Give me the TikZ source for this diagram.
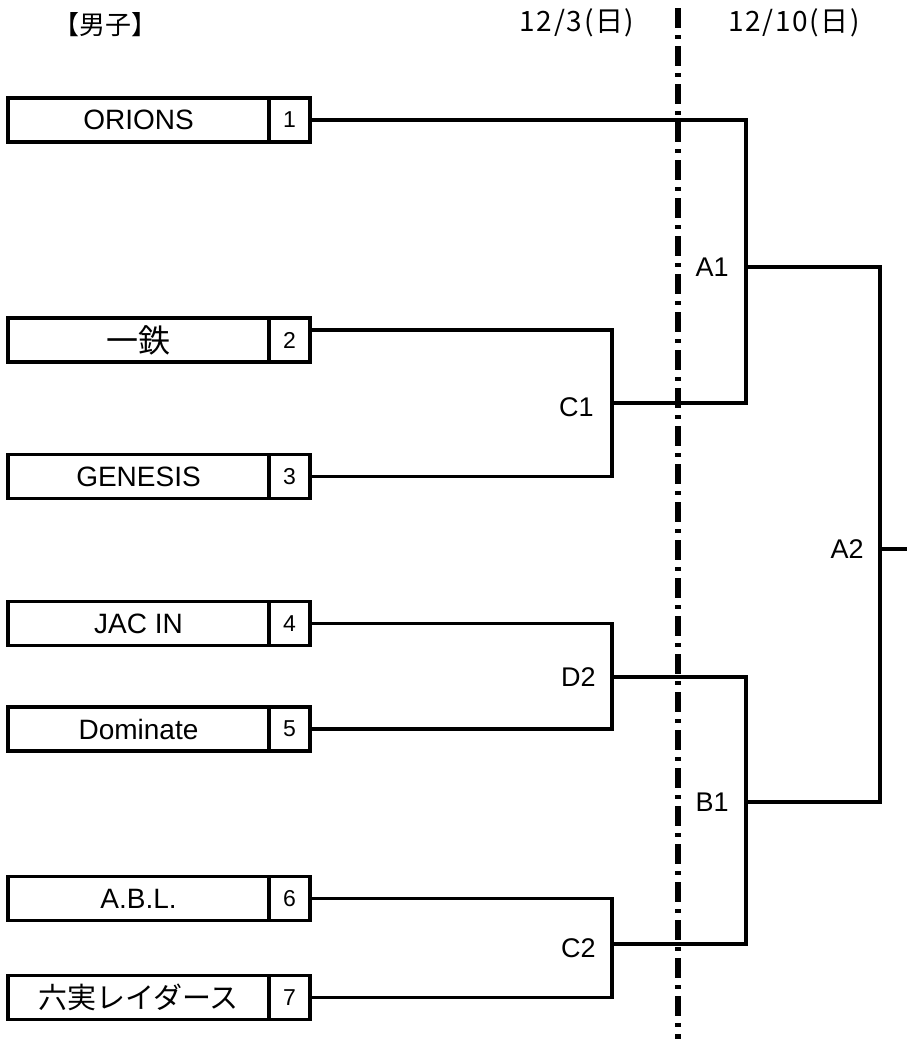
\documentclass[tikz,border=0pt]{standalone}
\usepackage{fontspec}
\usepackage{tikz}
\usetikzlibrary{positioning}
\setmainfont{Liberation Sans}
\newfontfamily\cjk{Noto Sans CJK JP}
\newfontfamily\hdrfont{Noto Sans CJK JP}[LetterSpace=6]
\newcommand{\teamfont}{\fontsize{14}{16}\selectfont}
\newcommand{\seedfont}{\fontsize{11.5}{13}\selectfont}
\newcommand{\matchfont}{\fontsize{13.5}{15}\selectfont}
\tikzstyle{team} = [draw, line width=1.6pt, minimum width=130.5pt, minimum height=22pt, inner sep=0pt, font=\teamfont]
\tikzstyle{seed} = [draw, line width=1.6pt, minimum width=20.5pt, minimum height=22pt, inner sep=0pt, font=\seedfont]
\tikzstyle{wire} = [line width=1.6pt]
\tikzstyle{match} = [inner sep=0pt, font=\matchfont]
\tikzstyle{divider} = [line width=2.6pt, dash pattern=on 10pt off 3.5pt on 2pt off 3.5pt]

\begin{document}
\begin{tikzpicture}[x=0.5pt,y=-0.5pt]
	  \useasboundingbox (0,0) rectangle (907,1039);

	  \node (h0) at (106,25) {\cjk\fontsize{13}{15}\selectfont 【男子】};
	  \node (h1) at (577,23) {\hdrfont\fontsize{14}{16}\selectfont 12/3(日)};
	  \node (h2) at (794,23) {\hdrfont\fontsize{14}{16}\selectfont 12/10(日)};

	  \coordinate (top) at (678,8);
	  \coordinate (bot) at (678,1039);
	  \draw [divider] (top) -- (bot);

	  \node (t1) at (138.5,120) [team] {ORIONS};
	  \node (t2) at (138.5,340) [team] {\cjk\fontsize{16}{18}\selectfont 一鉄};
	  \node (t3) at (138.5,476.5) [team] {GENESIS};
	  \node (t4) at (138.5,623.5) [team] {JAC IN};
	  \node (t5) at (138.5,729) [team] {Dominate};
	  \node (t6) at (138.5,898.5) [team] {A.B.L.};
	  \node (t7) at (138.5,997.5) [team] {\cjk\fontsize{14.5}{16}\selectfont 六実レイダース};

	  \node (n1) at (289.5,120) [seed] {1};
	  \node (n2) at (289.5,340) [seed] {2};
	  \node (n3) at (289.5,476.5) [seed] {3};
	  \node (n4) at (289.5,623.5) [seed] {4};
	  \node (n5) at (289.5,729) [seed] {5};
	  \node (n6) at (289.5,898.5) [seed] {6};
	  \node (n7) at (289.5,997.5) [seed] {7};

	  \coordinate (c1) at (612,403);
	  \coordinate (d2) at (612,677);
	  \coordinate (c2) at (612,944);
	  \coordinate (a1) at (746,267);
	  \coordinate (b1) at (746,802);
	  \coordinate (a2) at (880,549);
	  \coordinate (win) at (907,549);

	  \draw [wire] ([yshift=5pt]n2.east) -| (c1) |- (n3.east);
	  \draw [wire] (n4.east) -| (d2) |- (n5.east);
	  \draw [wire] (n6.east) -| (c2) |- (n7.east);
	  \draw [wire] (n1.east) -| (a1) |- (c1);
	  \draw [wire] (d2) -| (b1) |- (c2);
	  \draw [wire] (a1) -| (a2) |- (b1);
	  \draw [wire] (a2) -- (win);

	  \node (la1) [match, left=8.5pt of a1, anchor=east] {A1};
	  \node (lc1) [match, left=9pt of c1, anchor=east, yshift=-2pt] {C1};
	  \node (ld2) [match, left=8pt of d2, anchor=east] {D2};
	  \node (lb1) [match, left=8.5pt of b1, anchor=east] {B1};
	  \node (lc2) [match, left=8pt of c2, anchor=east, yshift=-2pt] {C2};
	  \node (la2) [match, left=8pt of a2, anchor=east] {A2};
	\end{tikzpicture}
\end{document}
